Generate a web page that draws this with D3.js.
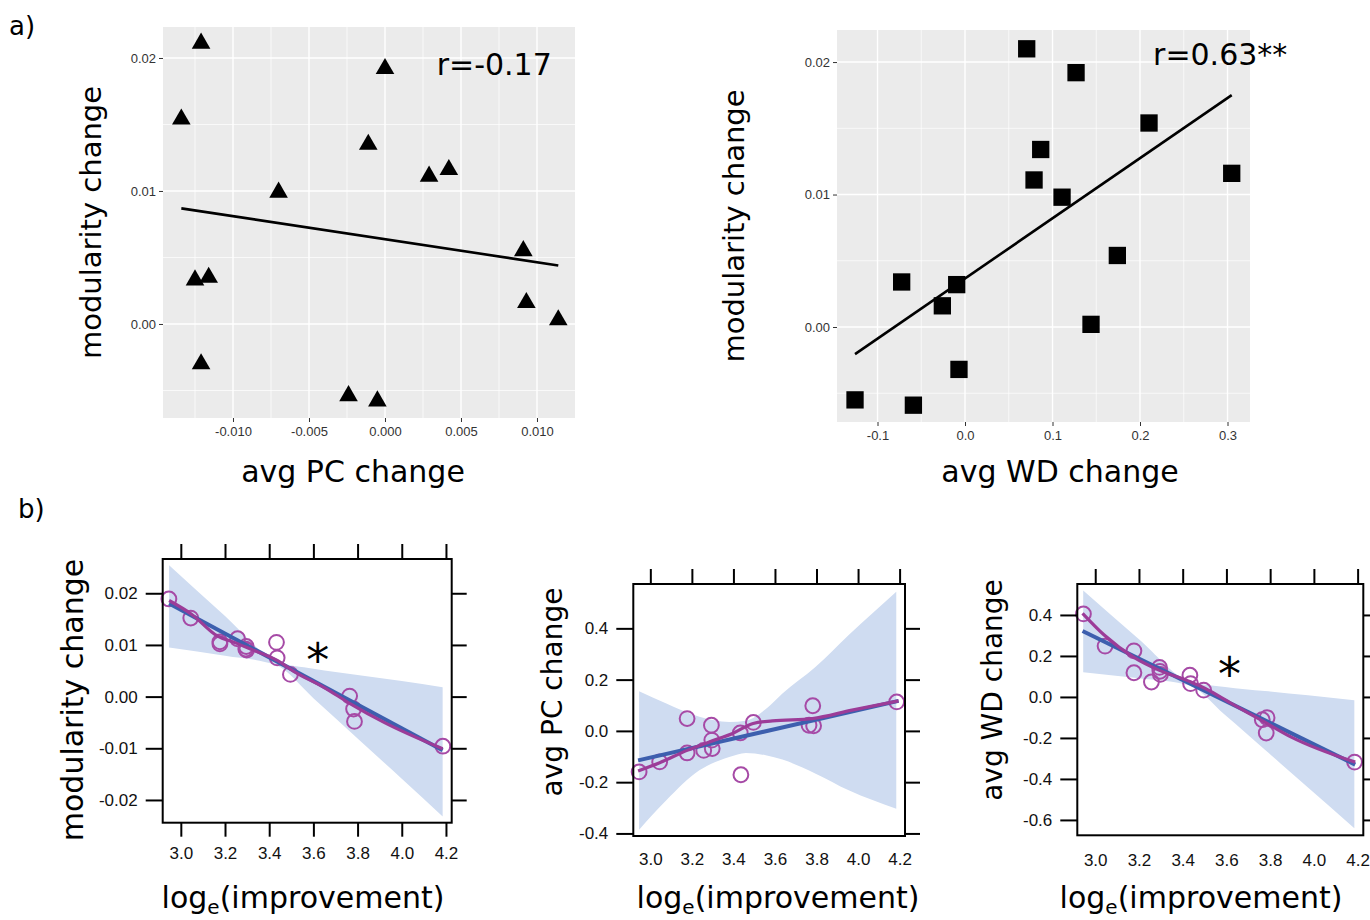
<!DOCTYPE html>
<html>
<head>
<meta charset="utf-8">
<script src="https://cdn.jsdelivr.net/npm/d3@7"></script>
<style>
  body { margin: 0; background: #fff; }
</style>
</head>
<body>
<div class="fig"></div>
<script>
// Paramètres de la figure
const width = 1370;
const height = 920;

// ---- a) nuages de points (ggplot) ----
const pcChange = [-0.0121, -0.0134, 0.0000, -0.0011, -0.0070, 0.0029, 0.0042, 0.0091, -0.0125, -0.0116, 0.0093, 0.0114, -0.0121, -0.0024, -0.0005];
const modularityVsPc = [0.0211, 0.0154, 0.0192, 0.0135, 0.0099, 0.0111, 0.0116, 0.0055, 0.0033, 0.0035, 0.0016, 0.0003, -0.0030, -0.0054, -0.0058];
const wdChange = [0.0705, 0.1269, 0.2103, 0.0865, 0.0789, 0.1109, 0.3048, 0.1741, -0.0724, -0.0095, -0.0259, 0.1440, -0.0069, -0.1257, -0.0590];
const modularityVsWd = [0.0210, 0.0192, 0.0154, 0.0134, 0.0111, 0.0098, 0.0116, 0.0054, 0.0034, 0.0032, 0.0016, 0.0002, -0.0032, -0.0055, -0.0059];
const rLabels = ['r=-0.17', 'r=0.63**'];

const pcTicks = [-0.010, -0.005, 0.000, 0.005, 0.010];
const wdTicks = [-0.1, 0.0, 0.1, 0.2, 0.3];
const modTicks = [0.00, 0.01, 0.02];

// ---- b) graphiques d'effets (lattice) ----
const logImprovement = [2.946, 3.045, 3.177, 3.177, 3.257, 3.294, 3.296, 3.298, 3.433, 3.436, 3.496, 3.764, 3.782, 3.786, 4.186];
const effModularity = [0.0189, 0.0152, 0.0102, 0.0106, 0.0112, 0.0092, 0.0097, 0.0090, 0.0105, 0.0075, 0.0043, 0.0001, -0.0024, -0.0048, -0.0096];
const effPc = [-0.160, -0.121, 0.048, -0.086, -0.076, 0.022, -0.036, -0.069, -0.008, -0.171, 0.033, 0.022, 0.098, 0.020, 0.113];
const effWd = [0.405, 0.248, 0.225, 0.118, 0.073, 0.144, 0.125, 0.110, 0.106, 0.065, 0.033, -0.111, -0.176, -0.101, -0.318];

// droites ajustées (extrémités lues)
const fitModularity = [[2.947, 0.0180], [4.185, -0.0104]];
const fitPc = [[2.941, -0.115], [4.195, 0.117]];
const fitWd = [[2.942, 0.322], [4.189, -0.330]];

// lissages (loess)
const loessModX = [2.947, 3.050, 3.163, 3.254, 3.315, 3.436, 3.511, 3.647, 3.768, 3.920, 4.185];
const loessModY = [0.0186, 0.0159, 0.0118, 0.0103, 0.0092, 0.0070, 0.0049, 0.0018, -0.0014, -0.0050, -0.0101];
const loessPcX = [2.941, 3.045, 3.177, 3.284, 3.396, 3.495, 3.588, 3.780, 3.971, 4.195];
const loessPcY = [-0.156, -0.124, -0.076, -0.043, -0.010, 0.029, 0.039, 0.048, 0.081, 0.117];
const loessWdX = [2.942, 3.041, 3.177, 3.291, 3.435, 3.503, 3.624, 3.761, 3.897, 4.189];
const loessWdY = [0.408, 0.302, 0.193, 0.131, 0.074, 0.041, -0.033, -0.114, -0.196, -0.318];

// bandes de confiance
const bandModX = [2.947, 3.2, 3.43, 3.6, 3.8, 4.0, 4.185];
const bandModHi = [0.0254, 0.0156, 0.0069, 0.0054, 0.0042, 0.0030, 0.0018];
const bandModLo = [0.0095, 0.0079, 0.0061, -0.0003, -0.0081, -0.0159, -0.0232];
const bandPcX = [2.946, 3.077, 3.236, 3.380, 3.460, 3.556, 3.636, 3.796, 3.955, 4.184];
const bandPcHi = [0.155, 0.107, 0.055, 0.035, 0.040, 0.085, 0.146, 0.250, 0.374, 0.543];
const bandPcLo = [-0.386, -0.271, -0.154, -0.102, -0.086, -0.095, -0.112, -0.167, -0.232, -0.304];
const bandWdX = [2.945, 3.2, 3.429, 3.594, 3.776, 3.973, 4.185];
const bandWdHi = [0.519, 0.281, 0.077, 0.049, 0.029, 0.008, -0.016];
const bandWdLo = [0.121, 0.091, 0.057, -0.088, -0.258, -0.442, -0.640];

const improvementTicks = [3.0, 3.2, 3.4, 3.6, 3.8, 4.0, 4.2];
const effModTicks = [-0.02, -0.01, 0.00, 0.01, 0.02];
const effPcTicks = [-0.4, -0.2, 0.0, 0.2, 0.4];
const effWdTicks = [-0.6, -0.4, -0.2, 0.0, 0.2, 0.4];

// Format avec un tiret simple
const locale = d3.formatLocale({ decimal: '.', thousands: ',', grouping: [3], currency: ['', ''], minus: '-' });

const titleFont = '"DejaVu Sans", Verdana, sans-serif';
const tickFont = '"Liberation Sans", Arial, sans-serif';

const svg = d3.select('.fig')
	.append('svg')
	.attr('width', width)
	.attr('height', height)
	.style('background', '#fff');

// Lettres de panneaux
svg.append('text').attr('x', 9).attr('y', 35).text('a)')
	.style('font', `26px ${titleFont}`);
svg.append('text').attr('x', 18).attr('y', 518).text('b)')
	.style('font', `26px ${titleFont}`);

function drawScatter(p) {
	const x = d3.scaleLinear().domain(p.xDomain).range([p.left, p.right]);
	const y = d3.scaleLinear().domain(p.yDomain).range([p.bottom, p.top]);
	const g = svg.append('g');

	g.append('rect')
		.attr('x', p.left).attr('y', p.top)
		.attr('width', p.right - p.left).attr('height', p.bottom - p.top)
		.attr('fill', '#ebebeb');

	// grille mineure puis majeure
	g.selectAll('.vminor').data(p.xMinor).join('line')
		.attr('x1', d => x(d)).attr('x2', d => x(d))
		.attr('y1', p.top).attr('y2', p.bottom)
		.attr('stroke', '#fff').attr('stroke-width', 0.7);
	g.selectAll('.hminor').data(p.yMinor).join('line')
		.attr('y1', d => y(d)).attr('y2', d => y(d))
		.attr('x1', p.left).attr('x2', p.right)
		.attr('stroke', '#fff').attr('stroke-width', 0.7);
	g.append('g').selectAll('line').data(p.xTicks).join('line')
		.attr('x1', d => x(d)).attr('x2', d => x(d))
		.attr('y1', p.top).attr('y2', p.bottom)
		.attr('stroke', '#fff').attr('stroke-width', 1.4);
	g.append('g').selectAll('line').data(p.yTicks).join('line')
		.attr('y1', d => y(d)).attr('y2', d => y(d))
		.attr('x1', p.left).attr('x2', p.right)
		.attr('stroke', '#fff').attr('stroke-width', 1.4);

	// axes
	const ax = g.append('g')
		.attr('transform', `translate(0, ${p.bottom})`)
		.call(d3.axisBottom(x).tickValues(p.xTicks).tickSize(4).tickPadding(5).tickFormat(locale.format(p.xFormat)));
	const ay = g.append('g')
		.attr('transform', `translate(${p.left}, 0)`)
		.call(d3.axisLeft(y).tickValues(p.yTicks).tickSize(4).tickPadding(3).tickFormat(locale.format('.2f')));
	[ax, ay].forEach(a => {
		a.select('.domain').remove();
		a.selectAll('line').attr('stroke', '#333').attr('stroke-width', 1);
		a.selectAll('text').attr('fill', '#333').style('font', `13px ${tickFont}`);
	});

	// droite des moindres carrés
	const mx = d3.mean(p.xs), my = d3.mean(p.ys);
	const slope = d3.sum(p.xs, (v, i) => (v - mx) * (p.ys[i] - my)) / d3.sum(p.xs, v => (v - mx) ** 2);
	const ext = d3.extent(p.xs);
	g.append('line')
		.attr('x1', x(ext[0])).attr('y1', y(my + slope * (ext[0] - mx)))
		.attr('x2', x(ext[1])).attr('y2', y(my + slope * (ext[1] - mx)))
		.attr('stroke', '#000').attr('stroke-width', 2.6);

	// points
	g.append('g').selectAll('path').data(p.xs).join('path')
		.attr('transform', (d, i) => `translate(${x(d)}, ${y(p.ys[i])})`)
		.attr('d', d3.symbol(p.shape, p.size))
		.attr('fill', '#000');

	// coefficient de corrélation
	g.append('text')
		.attr('x', x(p.rPos[0])).attr('y', y(p.rPos[1]))
		.text(p.rLabel)
		.style('font', `30px ${titleFont}`);

	// titres d'axes
	g.append('text')
		.attr('x', p.xTitleX).attr('y', 482)
		.attr('text-anchor', 'middle')
		.text(p.xTitle)
		.style('font', `30px ${titleFont}`);
	g.append('text')
		.attr('transform', `translate(${p.yTitleX}, ${(p.top + p.bottom) / 2}) rotate(-90)`)
		.attr('text-anchor', 'middle')
		.text('modularity change')
		.style('font', `29px ${titleFont}`);
}

function drawEffect(p) {
	const x = d3.scaleLinear().domain([2.918, 4.226]).range([p.left, p.right]);
	const y = d3.scaleLinear().domain(p.yDomain).range([p.bottom, p.top]);
	const g = svg.append('g');

	const band = p.bandX.map((v, i) => ({ x: v, lo: p.bandLo[i], hi: p.bandHi[i] }));
	g.append('path')
		.datum(band)
		.attr('d', d3.area().x(d => x(d.x)).y0(d => y(d.lo)).y1(d => y(d.hi)).curve(d3.curveMonotoneX))
		.attr('fill', '#cfdcf1');

	// cercles
	g.append('g').selectAll('circle').data(logImprovement).join('circle')
		.attr('cx', d => x(d))
		.attr('cy', (d, i) => y(p.ys[i]))
		.attr('r', 7.4)
		.attr('fill', 'none')
		.attr('stroke', '#a64aa6')
		.attr('stroke-width', 2);

	// droite ajustée
	g.append('path')
		.datum(p.fit)
		.attr('d', d3.line().x(d => x(d[0])).y(d => y(d[1])))
		.attr('fill', 'none')
		.attr('stroke', '#3d5fae')
		.attr('stroke-width', 4);

	// lissage
	const loess = p.loessX.map((v, i) => [v, p.loessY[i]]);
	g.append('path')
		.datum(loess)
		.attr('d', d3.line().x(d => x(d[0])).y(d => y(d[1])).curve(d3.curveMonotoneX))
		.attr('fill', 'none')
		.attr('stroke', '#9c3c98')
		.attr('stroke-width', 3.2);

	// cadre
	g.append('rect')
		.attr('x', p.left).attr('y', p.top)
		.attr('width', p.right - p.left).attr('height', p.bottom - p.top)
		.attr('fill', 'none').attr('stroke', '#000').attr('stroke-width', 2);

	// axes (graduations sur les 4 côtés, libellés à gauche et en bas)
	const axes = [
		g.append('g').attr('transform', `translate(${p.left}, 0)`)
			.call(d3.axisLeft(y).tickValues(p.yTicks).tickSize(17).tickPadding(8).tickFormat(locale.format(p.yFormat))),
		g.append('g').attr('transform', `translate(${p.right}, 0)`)
			.call(d3.axisRight(y).tickValues(p.yTicks).tickSize(15).tickFormat('')),
		g.append('g').attr('transform', `translate(0, ${p.top})`)
			.call(d3.axisTop(x).tickValues(improvementTicks).tickSize(15).tickFormat('')),
		g.append('g').attr('transform', `translate(0, ${p.bottom})`)
			.call(d3.axisBottom(x).tickValues(improvementTicks).tickSize(p.bottomTick).tickPadding(p.bottomPad).tickFormat(locale.format('.1f')))
	];
	axes.forEach(a => {
		a.select('.domain').remove();
		a.selectAll('line').attr('stroke', '#000').attr('stroke-width', 2);
		a.selectAll('text').attr('fill', '#111').style('font', `17px ${tickFont}`);
	});

	// étoile de significativité
	if (p.star) {
		g.append('text')
			.attr('x', x(p.star[0])).attr('y', y(p.star[1]))
			.attr('text-anchor', 'middle')
			.attr('dy', '0.55em')
			.text('*')
			.style('font', `46px ${titleFont}`);
	}

	// titres d'axes
	const xt = g.append('text')
		.attr('x', p.xTitleX).attr('y', 908)
		.attr('text-anchor', 'middle')
		.style('font', `30px ${titleFont}`);
	xt.append('tspan').text('log');
	xt.append('tspan').attr('dy', 6).style('font-size', '20px').text('e');
	xt.append('tspan').attr('dy', -6).text('(improvement)');

	g.append('text')
		.attr('transform', `translate(${p.yTitleX}, ${p.yTitleY}) rotate(-90)`)
		.attr('text-anchor', 'middle')
		.text(p.yTitle)
		.style('font', `${p.yTitleSize}px ${titleFont}`);
}

drawScatter({
	left: 163, right: 575, top: 27, bottom: 418,
	xDomain: [-0.014605, 0.0125], yDomain: [-0.00707, 0.02233],
	xTicks: pcTicks, yTicks: modTicks, xFormat: '.3f',
	xMinor: [-0.0125, -0.0075, -0.0025, 0.0025, 0.0075], yMinor: [-0.005, 0.005, 0.015],
	xs: pcChange, ys: modularityVsPc,
	shape: d3.symbolTriangle, size: 150,
	rLabel: rLabels[0], rPos: [0.0034, 0.0187],
	xTitle: 'avg PC change', xTitleX: 353, yTitleX: 101
});

drawScatter({
	left: 837, right: 1250, top: 30, bottom: 422,
	xDomain: [-0.1463, 0.3257], yDomain: [-0.00717, 0.02242],
	xTicks: wdTicks, yTicks: modTicks, xFormat: '.1f',
	xMinor: [-0.05, 0.05, 0.15, 0.25], yMinor: [-0.005, 0.005, 0.015],
	xs: wdChange, ys: modularityVsWd,
	shape: d3.symbolSquare, size: 300,
	rLabel: rLabels[1], rPos: [0.2149, 0.0198],
	xTitle: 'avg WD change', xTitleX: 1060, yTitleX: 744
});

drawEffect({
	left: 162.7, right: 451.7, top: 559, bottom: 822.7,
	yDomain: [-0.0244, 0.02663], yTicks: effModTicks, yFormat: '.2f',
	ys: effModularity, fit: fitModularity,
	loessX: loessModX, loessY: loessModY,
	bandX: bandModX, bandLo: bandModLo, bandHi: bandModHi,
	bottomTick: 14, bottomPad: 10,
	star: [3.62, 0.0089],
	yTitle: 'modularity change', yTitleSize: 30, yTitleX: 83, yTitleY: 700, xTitleX: 303
});

drawEffect({
	left: 633.3, right: 905, top: 584, bottom: 836,
	yDomain: [-0.41, 0.573], yTicks: effPcTicks, yFormat: '.1f',
	ys: effPc, fit: fitPc,
	loessX: loessPcX, loessY: loessPcY,
	bandX: bandPcX, bandLo: bandPcLo, bandHi: bandPcHi,
	bottomTick: 0, bottomPad: 17,
	star: null,
	yTitle: 'avg PC change', yTitleSize: 28, yTitleX: 562, yTitleY: 692, xTitleX: 778
});

drawEffect({
	left: 1077.3, right: 1363.3, top: 584, bottom: 835.3,
	yDomain: [-0.675, 0.551], yTicks: effWdTicks, yFormat: '.1f',
	ys: effWd, fit: fitWd,
	loessX: loessWdX, loessY: loessWdY,
	bandX: bandWdX, bandLo: bandWdLo, bandHi: bandWdHi,
	bottomTick: 0, bottomPad: 19,
	star: [3.614, 0.155],
	yTitle: 'avg WD change', yTitleSize: 28, yTitleX: 1002, yTitleY: 690, xTitleX: 1201
});
</script>
</body>
</html>
